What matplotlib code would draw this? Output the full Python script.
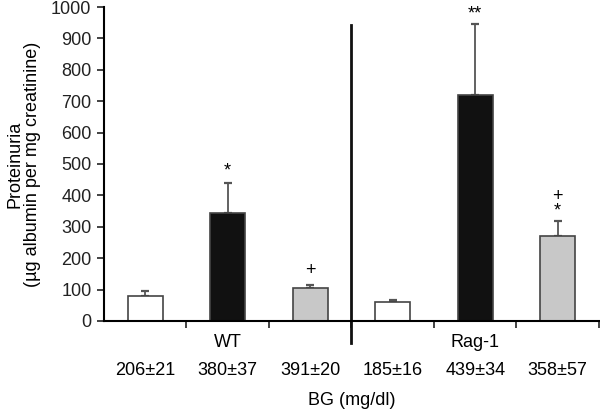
#!/usr/bin/python3

import numpy as np
import matplotlib.pyplot as plt

plt.rcParams['font.family'] = ['Liberation Sans', 'DejaVu Sans']

# data
means = [80, 345, 105, 60, 720, 270]
errs = [17, 94, 10, 8, 225, 48]
fills = ['white', '#111111', '#c8c8c8', 'white', '#111111', '#c8c8c8']
groups = ['WT', 'Rag-1']
bg_labels = ['206±21', '380±37', '391±20', '185±16', '439±34', '358±57']
marks = ['', '*', '+', '', '**', '+\n*']
mark_y = [0, 478, 160, 0, 978, 372]

x = np.arange(len(means))

fig = plt.figure(figsize=(6, 4.12), dpi=100)
ax = fig.add_axes([0.1733, 0.2209, 0.825, 0.7621])

ax.bar(x, means, width=0.42, color=fills, edgecolor='#444444', linewidth=1.2, zorder=2)
ax.errorbar(x, means, yerr=[np.zeros(len(errs)), errs], fmt='none',
            ecolor='#555555', elinewidth=1.3, capsize=3, capthick=1.6, zorder=1)

for xi, m, my in zip(x, marks, mark_y):
    if m:
        ax.text(xi, my, m, ha='center', va='center', fontsize=13, linespacing=0.8)

ax.set_xlim(-0.5, 5.5)
ax.set_ylim(0, 1000)
ax.set_yticks(np.arange(0, 1001, 100))
ax.set_xticks([0.5, 1.5, 2.5, 3.5, 4.5, 5.5])
ax.set_xticklabels([])
ax.tick_params(axis='both', direction='out', length=5, width=1.2, colors='#222222',
               labelsize=13, pad=4)
ax.spines['top'].set_visible(False)
ax.spines['right'].set_visible(False)
ax.spines['left'].set_linewidth(1.5)
ax.spines['bottom'].set_linewidth(1.5)

# divider between groups
ax.plot([2.5, 2.5], [943, -70], color='#111111', lw=2, clip_on=False)

trans = ax.get_xaxis_transform()
ax.text(1, -0.07, groups[0], transform=trans, ha='center', va='center', fontsize=13)
ax.text(4, -0.07, groups[1], transform=trans, ha='center', va='center', fontsize=13)
for xi, lab in zip(x, bg_labels):
    ax.text(xi, -0.159, lab, transform=trans, ha='center', va='center', fontsize=13)
ax.text(2.5, -0.252, 'BG (mg/dl)', transform=trans, ha='center', va='center', fontsize=13)

ax.set_ylabel('Proteinuria\n(µg albumin per mg creatinine)', fontsize=13,
              labelpad=7, linespacing=1.05)

fig.savefig('out.png', dpi=100)
